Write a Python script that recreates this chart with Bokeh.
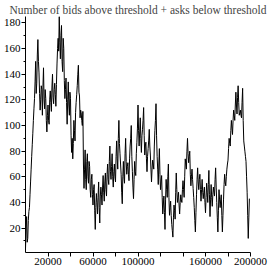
import numpy as np
from bokeh.plotting import figure
from bokeh.models import FixedTicker, Range1d
from bokeh.embed import file_html
from bokeh.resources import INLINE

title_text = "Number of bids above threshold + asks below threshold"

# readings at x = 0, 1000, ..., 199000
counts = [
    4, 29, 12, 33, 46, 66, 85, 104, 121, 150,
    133, 167, 141, 112, 131, 108, 145, 113, 121, 95,
    116, 101, 127, 111, 140, 117, 133, 115, 148, 168,
    185, 152, 178, 142, 160, 121, 137, 101, 134, 108,
    121, 79, 74, 104, 88, 118, 131, 147, 123, 112,
    104, 111, 51, 81, 50, 78, 55, 68, 44, 62,
    38, 54, 19, 47, 31, 56, 24, 52, 38, 61,
    41, 63, 45, 70, 54, 84, 58, 78, 52, 70,
    56, 88, 66, 104, 78, 62, 39, 72, 55, 90,
    62, 71, 57, 84, 100, 64, 43, 72, 61, 87,
    116, 84, 106, 79, 97, 114, 77, 87, 64, 82,
    97, 77, 56, 73, 66, 96, 117, 76, 54, 82,
    50, 61, 31, 45, 19, 58, 44, 70, 30, 41,
    23, 13, 38, 27, 63, 40, 48, 31, 46, 40,
    57, 44, 74, 66, 90, 71, 80, 53, 66, 51,
    36, 17, 46, 67, 50, 62, 41, 58, 43, 52,
    32, 55, 40, 65, 29, 54, 37, 52, 45, 67,
    40, 17, 50, 36, 46, 17, 42, 62, 53, 66,
    73, 90, 84, 104, 93, 112, 104, 126, 109, 131,
    108, 112, 106, 129, 88, 80, 72, 48, 12, 43,
]

# readings at x = 500, 1500, ..., 198500
counts_mid = [
    20, 9, 26, 36, 56, 76, 94, 113, 134, 125,
    155, 150, 125, 120, 128, 130, 120, 128, 104, 108,
    104, 120, 118, 130, 122, 128, 124, 132, 160, 158,
    165, 170, 150, 168, 135, 128, 118, 120, 116, 126,
    92, 90, 86, 96, 110, 124, 140, 126, 106, 110,
    100, 70, 66, 58, 72, 60, 72, 50, 58, 46,
    50, 34, 36, 40, 44, 36, 45, 46, 52, 48,
    56, 50, 62, 58, 72, 64, 68, 60, 64, 60,
    76, 74, 90, 86, 70, 48, 60, 60, 78, 72,
    68, 62, 74, 90, 76, 52, 58, 64, 78, 98,
    96, 95, 90, 92, 104, 92, 84, 74, 76, 88,
    84, 66, 66, 70, 84, 104, 92, 66, 70, 62,
    56, 44, 38, 32, 42, 50, 60, 44, 36, 30,
    18, 28, 34, 48, 50, 44, 38, 40, 42, 50,
    50, 60, 70, 80, 78, 76, 62, 60, 58, 44,
    26, 32, 58, 56, 58, 50, 50, 48, 48, 40,
    44, 48, 54, 46, 42, 44, 46, 48, 58, 52,
    28, 34, 42, 42, 30, 30, 54, 56, 60, 70,
    82, 86, 96, 98, 104, 108, 116, 116, 122, 118,
    110, 108, 118, 104, 84, 76, 60, 30, 28,
]

x_ticks = [20000, 40000, 60000, 80000, 100000, 120000, 140000, 160000, 180000, 200000]
x_labels = ["20000", "", "60000", "", "100000", "", "", "160000", "", "200000"]
y_ticks = [20, 40, 60, 80, 100, 120, 140, 160, 180]
y_minor = [10, 30, 50, 70, 90, 110, 130, 150, 170]

values = []
for i, c in enumerate(counts):
    values.append(c)
    if i < len(counts_mid):
        values.append(counts_mid[i])
xs = 500 * np.arange(len(values))

p = figure(width=269, height=267, output_backend="svg", toolbar_location=None,
           x_range=Range1d(0, 200000), y_range=Range1d(1, 185),
           min_border_left=22, min_border_right=19, min_border_bottom=12,
           min_border_top=2)
p.title.text = title_text
p.title.text_font = "Liberation Serif"
p.title.text_font_size = "11.5px"
p.title.text_font_style = "normal"
p.title.align = "center"
p.title.offset = 0
p.title.standoff = 2

p.line(xs, values, line_color="black", line_width=1)

p.outline_line_color = None
p.grid.visible = False
p.background_fill_color = "white"
p.border_fill_color = "white"

for ax in (p.xaxis[0], p.yaxis[0]):
    ax.axis_line_color = "black"
    ax.major_tick_line_color = "black"
    ax.minor_tick_line_color = "black"
    ax.major_tick_in = 0
    ax.major_tick_out = 4
    ax.minor_tick_in = 0
    ax.minor_tick_out = 2
    ax.major_label_text_font = "Liberation Serif"
    ax.major_label_text_font_size = "11px"
    ax.major_label_text_color = "black"
    ax.major_label_standoff = 1

p.xaxis[0].ticker = FixedTicker(ticks=x_ticks, minor_ticks=[])
p.xaxis[0].major_label_overrides = {t: l for t, l in zip(x_ticks, x_labels)}
p.yaxis[0].ticker = FixedTicker(ticks=y_ticks, minor_ticks=y_minor)

open("out.html", "w").write(file_html(p, INLINE))
